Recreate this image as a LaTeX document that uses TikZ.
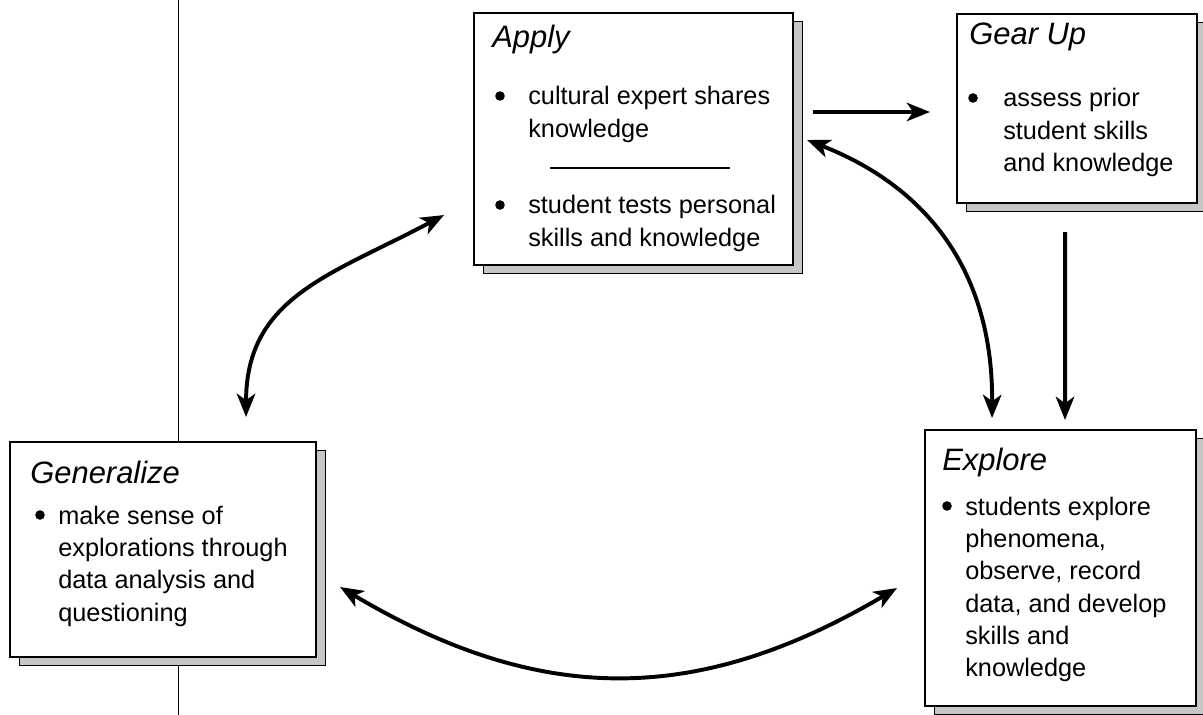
\documentclass[tikz,border=0pt]{standalone}
\usepackage{fontspec}
\setmainfont{Liberation Sans}
\usetikzlibrary{arrows.meta}
\usetikzlibrary{calc,shadows}

\newcommand{\lignes}[1]{\begin{tabular}[t]{@{}l@{}}#1\end{tabular}}

\begin{document}
\begin{tikzpicture}[x=0.025cm,y=-0.025cm,
	cadre/.style={draw,line width=1.1pt,fill=white,inner sep=0pt,outer sep=0pt,anchor=north west,
		drop shadow={shadow xshift=0.235cm,shadow yshift=-0.22cm,fill=gray!45,draw=black,line width=0.7pt,opacity=1}},
	titre/.style={anchor=base west,inner sep=0pt,font=\fontsize{22pt}{26pt}\selectfont\itshape},
	texte/.style={anchor=base west,inner sep=0pt,font=\fontsize{18pt}{23pt}\selectfont},
	puce/.style={circle,fill,inner sep=0pt,minimum size=0.24cm},
	fl/.style={-{Stealth[length=0.58cm,width=0.46cm,inset=0.16cm]},line width=2.8pt},
	dfl/.style={{Stealth[length=0.58cm,width=0.46cm,inset=0.16cm]}-{Stealth[length=0.58cm,width=0.46cm,inset=0.16cm]},line width=2.8pt}]
	\path[use as bounding box,fill=white] (0,0) rectangle (1203,715);
	% Trait vertical
	\coordinate (haut) at (178,0);
	\coordinate (bas) at (178,715);
	\draw[line width=0.6pt] (haut) -- (bas);
	% Cadres
	\node[cadre,minimum width=7.975cm,minimum height=6.3cm] (apply) at (474,13) {};
	\node[cadre,minimum width=6cm,minimum height=4.725cm] (gearup) at (957,14) {};
	\node[cadre,minimum width=7.65cm,minimum height=5.375cm] (gen) at (10,442) {};
	\node[cadre,minimum width=6.775cm,minimum height=6.9cm] (explore) at (925,430) {};
	% Textes
	\node[titre] (applyT) at ($(apply.north west)+(18,35)$) {Apply};
	\node[texte] (apply1) at ($(apply.north west)+(54,92)$) {\lignes{cultural expert shares\\knowledge}};
	\node[puce] (applyP1) at ($(apply1.base west)+(-28,-9)$) {};
	\draw[line width=0.9pt] ($(apply.north west)+(76,155)$) -- ++(180,0);
	\node[texte] (apply2) at ($(apply.north west)+(54,201)$) {\lignes{student tests personal\\skills and knowledge}};
	\node[puce] (applyP2) at ($(apply2.base west)+(-28,-9)$) {};
	\node[titre] (gearupT) at ($(gearup.north west)+(12,31)$) {Gear Up};
	\node[texte] (gearup1) at ($(gearup.north west)+(46,93)$) {\lignes{assess prior\\student skills\\and knowledge}};
	\node[puce] (gearupP) at ($(gearup1.base west)+(-30,-9)$) {};
	\node[titre] (genT) at ($(gen.north west)+(20,41)$) {Generalize};
	\node[texte] (gen1) at ($(gen.north west)+(48,82)$) {\lignes{make sense of\\explorations through\\data analysis and\\questioning}};
	\node[puce] (genP) at ($(gen1.base west)+(-18,-9)$) {};
	\node[titre] (exploreT) at ($(explore.north west)+(17,40)$) {Explore};
	\node[texte] (explore1) at ($(explore.north west)+(40,85)$) {\lignes{students explore\\phenomena,\\observe, record\\data, and develop\\skills and\\knowledge}};
	\node[puce] (exploreP) at ($(explore1.base west)+(-18,-9)$) {};
	% Flèches
	\draw[fl] ($(apply.north east)+(20,99)$) -- ($(gearup.north west)+(-27,98)$);
	\draw[fl] ($(gearup.south)+(-12,29)$) -- ($(explore.north)+(4.5,-10)$);
	\draw[dfl] ($(apply.east)+(14,1)$) .. controls +(128,50) and +(1,-138) .. ($(explore.north)+(-68.5,-12)$);
	\draw[dfl] ($(apply.south west)+(-30,-50)$) .. controls +(-113,60) and +(0,-120) .. ($(gen.north)+(83,-25)$);
	\draw[dfl] ($(gen.east)+(24,37.5)$) .. controls +(200,119) and +(-200,118) .. ($(explore.west)+(-28,20)$);
\end{tikzpicture}
\end{document}
